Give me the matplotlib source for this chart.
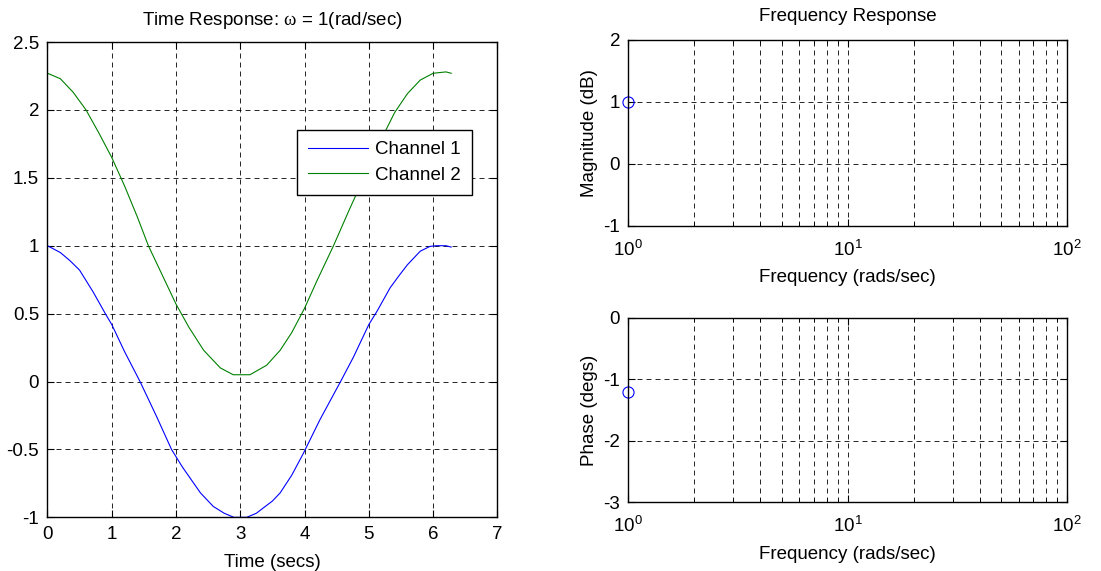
import matplotlib
matplotlib.use('Agg')
import matplotlib.pyplot as plt
from matplotlib.ticker import NullFormatter, LogLocator

plt.rcParams['font.family'] = ['Liberation Sans', 'DejaVu Sans']
plt.rcParams['mathtext.fontset'] = 'custom'
plt.rcParams['mathtext.rm'] = 'Liberation Serif'
plt.rcParams['mathtext.it'] = 'Liberation Serif'
plt.rcParams['font.size'] = 13.5
plt.rcParams['axes.unicode_minus'] = False

# time response
t1 = [0, 0.2, 0.35, 0.5, 0.71, 0.9, 1.0, 1.2, 1.44, 1.7, 1.93, 2.1, 2.38, 2.58, 2.75, 2.9,
      3.1, 3.25, 3.36, 3.5, 3.62, 3.8, 3.98, 4.24, 4.56, 4.76, 5.0, 5.13, 5.33, 5.47, 5.6,
      5.8, 5.95, 6.05, 6.2, 6.28]
ch1 = [1.0, 0.95, 0.89, 0.82, 0.66, 0.5, 0.42, 0.22, 0.0, -0.26, -0.5, -0.63, -0.82, -0.92,
       -0.97, -1.0, -1.0, -0.97, -0.93, -0.88, -0.82, -0.69, -0.53, -0.28, 0.0, 0.18, 0.42,
       0.52, 0.69, 0.78, 0.86, 0.96, 0.995, 1.0, 1.0, 0.99]
t2 = [0, 0.2, 0.4, 0.6, 0.8, 1.0, 1.2, 1.4, 1.57, 1.8, 2.0, 2.2, 2.43, 2.69, 2.89, 3.15,
      3.41, 3.62, 3.8, 4.0, 4.2, 4.45, 4.7, 4.95, 5.2, 5.4, 5.6, 5.8, 6.0, 6.2, 6.28]
ch2 = [2.27, 2.23, 2.13, 2.0, 1.83, 1.65, 1.44, 1.21, 1.0, 0.77, 0.57, 0.40, 0.23, 0.10,
       0.05, 0.05, 0.12, 0.23, 0.36, 0.54, 0.75, 1.0, 1.27, 1.53, 1.79, 1.98, 2.12, 2.22,
       2.27, 2.28, 2.27]
labels = ['Channel 1', 'Channel 2']

# frequency response
freq = [1]
mag = [1]
phase = [-1.2]

grid_kw = dict(color='black', linestyle=(0, (6, 4.8)), linewidth=0.6)


def style(ax):
    ax.tick_params(direction='in', top=True, right=True, length=5, width=0.8, pad=6)
    ax.tick_params(which='minor', direction='in', top=True, right=True, length=3, width=0.6)
    for s in ax.spines.values():
        s.set_linewidth(1.0)


fig = plt.figure(figsize=(11.01, 5.71), dpi=100)

ax1 = fig.add_axes([0.0431, 0.0940, 0.4087, 0.8324])
ax1.plot(t1, ch1, color='blue', lw=0.8, label=labels[0])
ax1.plot(t2, ch2, color='#008000', lw=0.8, label=labels[1])
ax1.set_xlim(0, 7)
ax1.set_ylim(-1, 2.5)
ax1.set_xticks(range(0, 8))
ax1.set_yticks([-1, -0.5, 0, 0.5, 1, 1.5, 2, 2.5])
ax1.set_yticklabels(['-1', '-0.5', '0', '0.5', '1', '1.5', '2', '2.5'])
ax1.grid(True, **grid_kw)
style(ax1)
ax1.set_title(r'Time Response: $\omega$ = 1(rad/sec)', fontsize=13.5, pad=12)
ax1.set_xlabel('Time (secs)', labelpad=8)
leg = ax1.legend(loc='upper right', bbox_to_anchor=(0.943, 0.815), borderaxespad=0,
                 fancybox=False, framealpha=1, edgecolor='black', handlelength=3.2,
                 handletextpad=0.35, labelspacing=0.45, borderpad=0.6)
leg.get_frame().set_linewidth(1.0)

ax2 = fig.add_axes([0.5707, 0.6047, 0.3987, 0.3253])
ax2.semilogx(freq, mag, 'o', color='blue', mfc='none', ms=8, mew=0.8, clip_on=False)
ax2.set_xlim(1, 100)
ax2.set_ylim(-1, 2)
ax2.set_yticks([-1, 0, 1, 2])
ax2.set_title('Frequency Response', fontsize=13.5, pad=14)
ax2.set_xlabel('Frequency (rads/sec)', labelpad=7)
ax2.set_ylabel('Magnitude (dB)')

ax3 = fig.add_axes([0.5707, 0.1203, 0.3987, 0.3233])
ax3.semilogx(freq, phase, 'o', color='blue', mfc='none', ms=8, mew=0.8, clip_on=False)
ax3.set_xlim(1, 100)
ax3.set_ylim(-3, 0)
ax3.set_yticks([-3, -2, -1, 0])
ax3.set_xlabel('Frequency (rads/sec)', labelpad=7)
ax3.set_ylabel('Phase (degs)')

for ax in (ax2, ax3):
    ax.xaxis.set_minor_locator(LogLocator(base=10, subs=range(2, 10)))
    ax.xaxis.set_minor_formatter(NullFormatter())
    ax.grid(True, which='both', axis='x', **grid_kw)
    ax.grid(True, which='major', axis='y', **grid_kw)
    style(ax)
    ax.tick_params(axis='x', which='major', pad=10)

fig.savefig('out.png', dpi=100)
